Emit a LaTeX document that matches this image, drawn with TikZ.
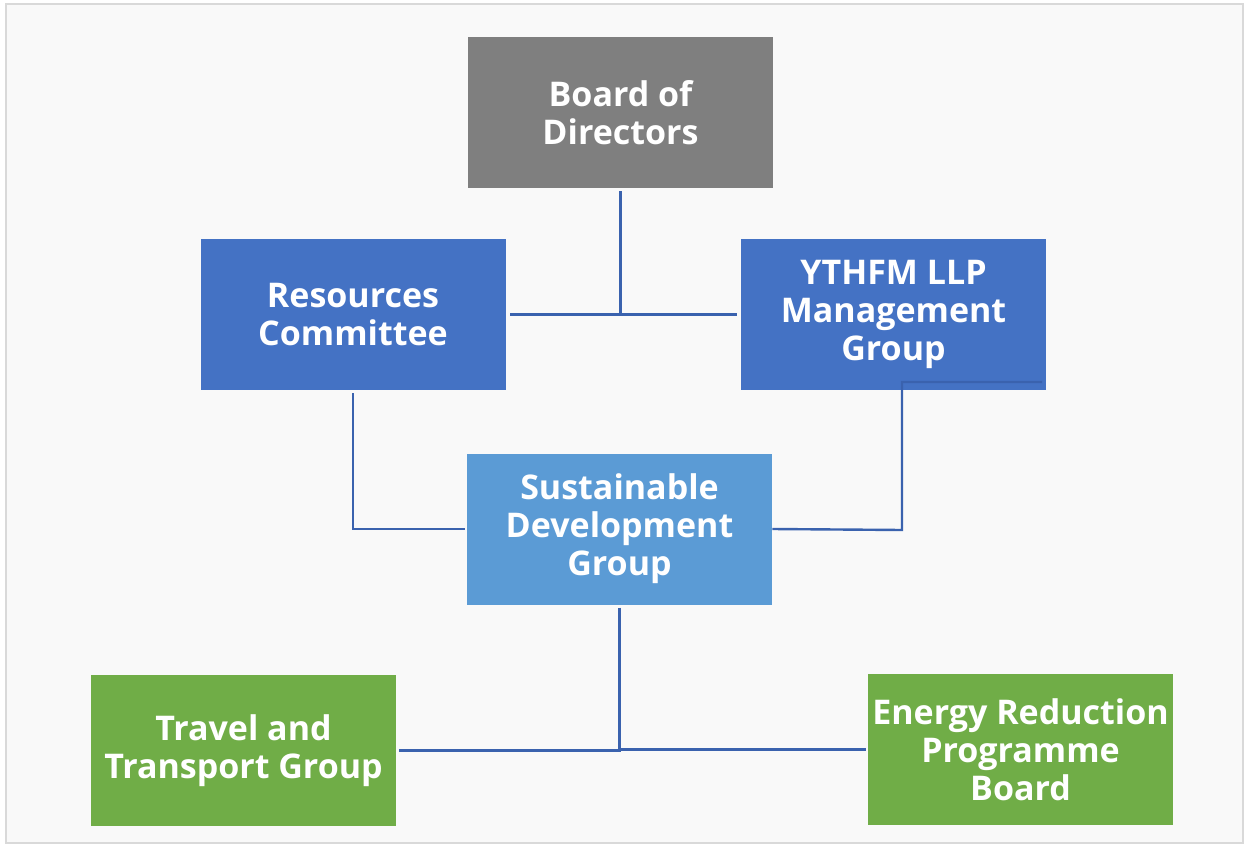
\documentclass[tikz,border=0pt]{standalone}
\usepackage{fontspec}
\setsansfont{Open Sans}
\usepackage{xcolor}
\definecolor{boardgray}{HTML}{7F7F7F}
\definecolor{midblue}{HTML}{4472C4}
\definecolor{lightblue}{HTML}{5B9BD5}
\definecolor{leafgreen}{HTML}{70AD47}
\definecolor{linkblue}{HTML}{3A62AE}
\definecolor{pagegray}{HTML}{F9F9F9}
\definecolor{framegray}{HTML}{D9D9D9}

\begin{document}
\begin{tikzpicture}[x=0.5pt,y=-0.5pt,
  unit/.style={minimum width=152.5pt, minimum height=75.5pt, inner sep=0pt,
    align=center, text=white, font=\sffamily\bfseries\fontsize{17}{19}\selectfont},
  link/.style={draw=linkblue, line width=1.2pt}]
\useasboundingbox (0,0) rectangle (1246,845);
\draw[framegray, line width=1pt, fill=pagegray] (6,4) rectangle (1243,843);
% boxes
\node[unit, fill=boardgray] (brd) at (620.5,112.5) {Board of\\Directors};
\node[unit, fill=midblue] (res) at (353,314.5) {Resources\\Committee};
\node[unit, fill=midblue] (yth) at (893.5,314.5) {YTHFM LLP\\Management\\Group};
\node[unit, fill=lightblue] (sdg) at (619.5,529) {Sustainable\\Development\\Group};
\node[unit, fill=leafgreen] (trv) at (243.5,750.5) {Travel and\\Transport Group};
\node[unit, fill=leafgreen] (erp) at (1020.5,749.5) {Energy Reduction\\Programme\\Board};
% links
\draw[link, shorten <=1.5pt, shorten >=2pt] (brd.south) |- (res.east);
\draw[link, shorten <=1.5pt, shorten >=2pt] (brd.south) |- (yth.west);
\draw[link, shorten <=1.5pt, shorten >=1pt] (res.south) |- (sdg.west);
\coordinate (ythc) at (1042,382);
\coordinate (ythk) at (902,530);
\draw[link] (ythc) -| (ythk) -- (sdg.east);
\draw[link, shorten <=1.5pt, shorten >=1.5pt] (sdg.south) |- (trv.east);
\draw[link, shorten <=1.5pt, shorten >=1pt] (sdg.south) |- (erp.west);
\end{tikzpicture}
\end{document}
